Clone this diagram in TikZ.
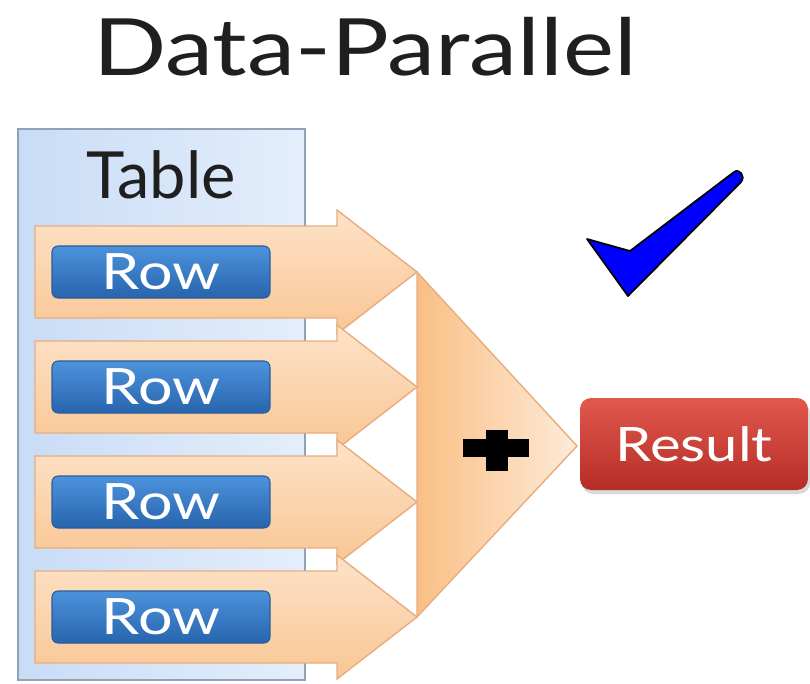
\documentclass[tikz,border=0pt]{standalone}
\usepackage{fontspec}
\setmainfont{Lato}
\newfontfamily\widefont[FakeStretch=1.22]{Lato}
\usetikzlibrary{calc}
\definecolor{tablefillL}{HTML}{C9DCF6}
\definecolor{tablefillR}{HTML}{E4EEFB}
\definecolor{tableline}{HTML}{8FA2B8}
\definecolor{peachT}{HTML}{FDE2C8}
\definecolor{peachB}{HTML}{F9C694}
\definecolor{peachline}{HTML}{E8AD7F}
\definecolor{rowT}{HTML}{4C93DB}
\definecolor{rowB}{HTML}{2864AE}
\definecolor{rowline}{HTML}{2A5C9A}
\definecolor{resT}{HTML}{E2584D}
\definecolor{resB}{HTML}{B42D26}
\def\rowarrow(#1){\draw[arrowbox] (35,{#1-46}) -- (337,{#1-46}) -- (337,{#1-62}) -- (417,#1) -- (337,{#1+62}) -- (337,{#1+46}) -- (35,{#1+46}) -- cycle;}

\begin{document}
\begin{tikzpicture}[x=0.02cm, y=-0.02cm,
	arrowbox/.style={draw=peachline, line width=0.8pt, top color=peachT, bottom color=peachB},
	rowbtn/.style={draw=rowline, line width=0.6pt, rounded corners=0.12cm, top color=rowT, bottom color=rowB,
		minimum width=4.36cm, minimum height=1.04cm, text=white, font=\widefont\fontsize{28.5}{30}\selectfont},
	resbtn/.style={rounded corners=0.22cm, top color=resT, bottom color=resB,
		minimum width=4.56cm, minimum height=1.84cm, text=white, font=\widefont\fontsize{27}{32}\selectfont}]
			%%%%% START %%%%%
			\useasboundingbox (0,0) rectangle (810,683);
			
			\node[anchor=base, font=\widefont\fontsize{45}{50}\selectfont, text=black!88] (title) at (365,75) {Data-Parallel};
			
			% table
			\draw[draw=tableline, line width=0.8pt, left color=tablefillL, right color=tablefillR] (18,129) rectangle (305,680);
			\node[anchor=base, font=\fontsize{37}{40}\selectfont, text=black!88] (table) at (161,198) {Table};
			
			% sum triangle
			\draw[draw=peachline, line width=0.8pt, left color=peachB!90!orange, right color=peachT!70!white] (417,272) -- (577,446) -- (417,617) -- cycle;
			\fill[black] (463,439) rectangle (529,457);
			\fill[black] (486,430) rectangle (508,471);
			
			% rows
			\foreach \y [count=\i] in {272,387,502,617} {
				\rowarrow(\y)
				\node[rowbtn] (row\i) at (161,\y) {Row};
			}
			
			% result
			\fill[black!15, rounded corners=0.22cm] (582,402) rectangle (810,494);
			\node[resbtn] (result) at (694,444) {Result};
			
			% tick
			\draw[fill=blue, line width=1pt, line join=round] (587,239) -- (628,296) -- (741,182) .. controls (746,176) and (739,168) .. (734,172) -- (630,251) -- cycle;
			
			%%%%% END %%%%%
		\end{tikzpicture}
\end{document}
